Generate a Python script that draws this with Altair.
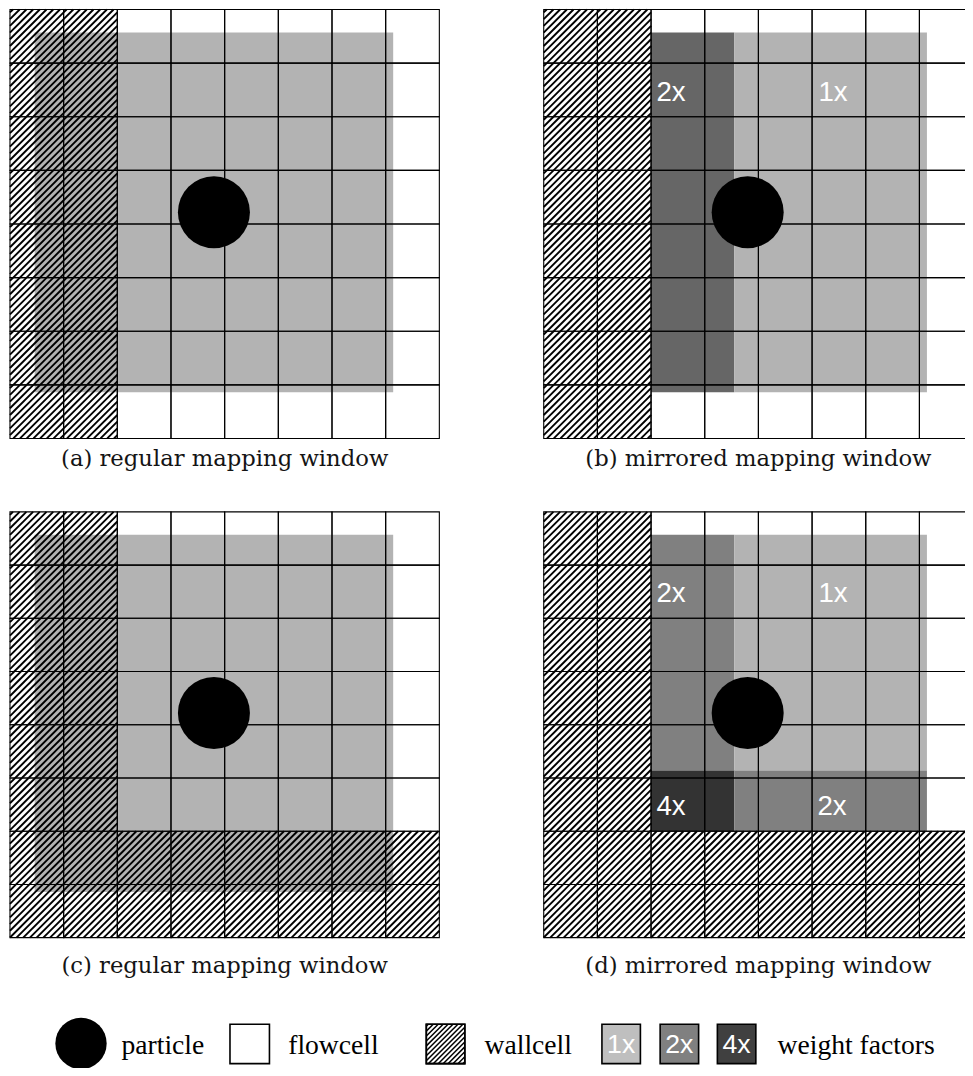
import altair as alt
import pandas as pd
import numpy as np

# ------------------------------------------------------------------ data
PANELS = ["a", "b", "c", "d"]
CAPTIONS = ["(a) regular mapping window", "(b) mirrored mapping window",
            "(c) regular mapping window", "(d) mirrored mapping window"]
N_CELLS = 8
WALL_COLS = {"a": [0, 1], "b": [0, 1], "c": [0, 1], "d": [0, 1]}
WALL_ROWS = {"a": [], "b": [], "c": [6, 7], "d": [6, 7]}
PARTICLE_COL = 3.80
PARTICLE_ROW = 3.78

# shaded regions (cell units): panel, x1, x2, y1, y2, weight factor
REG_PANEL = ["a", "b", "b", "c", "d", "d", "d", "d"]
REG_X1 = [0.46, 2.00, 3.55, 0.46, 2.00, 3.55, 2.00, 3.55]
REG_X2 = [7.14, 3.55, 7.14, 7.14, 3.55, 7.14, 3.55, 7.14]
REG_Y1 = [0.43, 0.43, 0.43, 0.43, 0.43, 0.43, 4.86, 4.86]
REG_Y2 = [7.14, 7.14, 7.14, 7.14, 4.86, 4.86, 6.00, 6.00]
REG_FACTOR = [1, 2, 1, 1, 2, 1, 4, 2]

# weight labels (cell units)
LBL_PANEL = ["b", "b", "d", "d", "d", "d"]
LBL_TEXT = ["2x", "1x", "2x", "1x", "4x", "2x"]
LBL_COL = [2.10, 5.12, 2.10, 5.12, 2.10, 5.10]
LBL_ROW = [1.70, 1.70, 1.69, 1.69, 5.70, 5.70]

LEGEND_TEXTS = ["particle", "flowcell", "wallcell", "weight factors"]
LEGEND_FACTORS = ["1x", "2x", "4x"]

# ------------------------------------------------------------------ layout / style
PANEL_X0 = {"a": 5.0, "b": 546.0, "c": 5.0, "d": 546.0}
PANEL_Y0 = {"a": 3.5, "b": 3.5, "c": 512.7, "d": 512.7}
CELL_W = 54.4
CELL_H = {"a": 54.35, "b": 54.35, "c": 53.95, "d": 53.95}
SHADE = {("a", 1): "#b3b3b3", ("b", 1): "#b3b3b3", ("b", 2): "#666666",
         ("c", 1): "#b3b3b3", ("d", 1): "#b3b3b3", ("d", 2): "#808080",
         ("d", 4): "#333333"}
LEG_SHADE = {"1x": "#bfbfbf", "2x": "#808080", "4x": "#404040"}

X_DOM = [3.0, 973.0]
W = 957
K = W / (X_DOM[1] - X_DOM[0])
H = 1060
Y_DOM = [2.0, 2.0 + H / K]

PARTICLE_R = 36.5
LEG_CIRCLE = (77.0, 1051.5, 26.0)
LEG_TEXT_X = [118, 287, 486, 783]
LEG_BASE = 1062
LEG_BOX_Y = (1032, 1072)
FLOW_BOX = (228, 268)
WALL_BOX = (427, 466)
FACTOR_BOX_X = [605, 664, 722]
BOX_W = 39
CAPTION_BASE = {"a": 466, "b": 466, "c": 980, "d": 980}
HATCH_STEP = 6.8


def px(p, col):
    return PANEL_X0[p] + col * CELL_W


def py(p, row):
    return PANEL_Y0[p] + row * CELL_H[p]


def hatch(rects, step, phase=0.0):
    segs = []
    for (x0, x1, y0, y1) in rects:
        cmin, cmax = x0 + y0, x1 + y1
        k0 = int(np.floor((cmin - phase) / step))
        k1 = int(np.ceil((cmax - phase) / step))
        for k in range(k0, k1 + 1):
            c = phase + k * step
            xa = max(x0, c - y1)
            xb = min(x1, c - y0)
            if xb - xa > 0.3:
                segs.append({"x": xa, "y": c - xa, "x2": xb, "y2": c - xb})
    return segs


# shaded regions
regions = pd.DataFrame({
    "x": [px(p, v) for p, v in zip(REG_PANEL, REG_X1)],
    "x2": [px(p, v) for p, v in zip(REG_PANEL, REG_X2)],
    "y": [py(p, v) for p, v in zip(REG_PANEL, REG_Y1)],
    "y2": [py(p, v) for p, v in zip(REG_PANEL, REG_Y2)],
    "color": [SHADE[(p, f)] for p, f in zip(REG_PANEL, REG_FACTOR)],
})

# hatch segments for wall cells
hsegs = []
for p in PANELS:
    rects = []
    for c in range(N_CELLS):
        for r in range(N_CELLS):
            if c in WALL_COLS[p] or r in WALL_ROWS[p]:
                rects.append((px(p, c), px(p, c + 1), py(p, r), py(p, r + 1)))
    hsegs += hatch(rects, HATCH_STEP, phase=PANEL_X0[p] + PANEL_Y0[p] + 3)
hatch_df = pd.DataFrame(hsegs)

# grid cells
cells = pd.DataFrame([
    {"x": px(p, c), "x2": px(p, c + 1), "y": py(p, r), "y2": py(p, r + 1)}
    for p in PANELS for c in range(N_CELLS) for r in range(N_CELLS)
])

# particles
particles = pd.DataFrame({
    "x": [px(p, PARTICLE_COL) for p in PANELS] + [LEG_CIRCLE[0]],
    "y": [py(p, PARTICLE_ROW) for p in PANELS] + [LEG_CIRCLE[1]],
    "size": [(2 * PARTICLE_R * K) ** 2] * 4 + [(2 * LEG_CIRCLE[2] * K) ** 2],
})

# weight labels
wlabels = pd.DataFrame({
    "x": [px(p, v) for p, v in zip(LBL_PANEL, LBL_COL)],
    "y": [py(p, v) for p, v in zip(LBL_PANEL, LBL_ROW)],
    "text": LBL_TEXT,
})

# captions
captions = pd.DataFrame({
    "x": [px(p, N_CELLS / 2) for p in PANELS],
    "y": [CAPTION_BASE[p] for p in PANELS],
    "text": CAPTIONS,
})

# legend
leg_text = pd.DataFrame({"x": LEG_TEXT_X, "y": [LEG_BASE] * 4, "text": LEGEND_TEXTS})
leg_boxes = pd.DataFrame({
    "x": [FLOW_BOX[0], WALL_BOX[0]] + FACTOR_BOX_X,
    "x2": [FLOW_BOX[1], WALL_BOX[1]] + [v + BOX_W for v in FACTOR_BOX_X],
    "y": [LEG_BOX_Y[0]] * 5,
    "y2": [LEG_BOX_Y[1]] * 5,
    "color": ["#ffffff", "#ffffff"] + [LEG_SHADE[f] for f in LEGEND_FACTORS],
})
leg_hatch = pd.DataFrame(hatch([(WALL_BOX[0], WALL_BOX[1], LEG_BOX_Y[0], LEG_BOX_Y[1])], 5.0, 1.0))
leg_flabels = pd.DataFrame({
    "x": [v + BOX_W / 2 for v in FACTOR_BOX_X],
    "y": [(LEG_BOX_Y[0] + LEG_BOX_Y[1]) / 2 + 1] * 3,
    "text": LEGEND_FACTORS,
})

# ------------------------------------------------------------------ chart
XS = alt.Scale(domain=X_DOM, nice=False, zero=False)
YS = alt.Scale(domain=Y_DOM, nice=False, zero=False, reverse=True)


def X(f="x"):
    return alt.X(f + ":Q", scale=XS, axis=None)


def Y(f="y"):
    return alt.Y(f + ":Q", scale=YS, axis=None)


region_layer = alt.Chart(regions).mark_rect(clip=True, strokeWidth=0).encode(
    x=X(), x2="x2:Q", y=Y(), y2="y2:Q", fill=alt.Fill("color:N", scale=None))

hatch_layer = alt.Chart(hatch_df).mark_rule(clip=True, color="black", strokeWidth=1.9).encode(
    x=X(), y=Y(), x2="x2:Q", y2="y2:Q")

grid_layer = alt.Chart(cells).mark_rect(clip=True, fillOpacity=0, stroke="black", strokeWidth=1.1).encode(
    x=X(), x2="x2:Q", y=Y(), y2="y2:Q")

particle_layer = alt.Chart(particles).mark_point(shape="circle", filled=True, color="black",
                                                 opacity=1, clip=True).encode(
    x=X(), y=Y(), size=alt.Size("size:Q", scale=None))

wlabel_layer = alt.Chart(wlabels).mark_text(font="Liberation Sans", fontSize=28 * K, color="white",
                                            align="left", baseline="alphabetic").encode(
    x=X(), y=Y(), text="text:N")

caption_layer = alt.Chart(captions).mark_text(font="DejaVu Serif", fontSize=23 * K, color="#141414",
                                              align="center", baseline="alphabetic").encode(
    x=X(), y=Y(), text="text:N")

legtext_layer = alt.Chart(leg_text).mark_text(font="Liberation Serif", fontSize=28 * K, color="black",
                                              align="left", baseline="alphabetic").encode(
    x=X(), y=Y(), text="text:N")

legbox_layer = alt.Chart(leg_boxes).mark_rect(stroke="black", strokeWidth=1.6).encode(
    x=X(), x2="x2:Q", y=Y(), y2="y2:Q", fill=alt.Fill("color:N", scale=None))

leghatch_layer = alt.Chart(leg_hatch).mark_rule(color="black", strokeWidth=1.5).encode(
    x=X(), y=Y(), x2="x2:Q", y2="y2:Q")

legbox_outline = alt.Chart(leg_boxes.iloc[[1]]).mark_rect(fillOpacity=0, stroke="black", strokeWidth=1.6).encode(
    x=X(), x2="x2:Q", y=Y(), y2="y2:Q")

legflabel_layer = alt.Chart(leg_flabels).mark_text(font="Liberation Sans", fontSize=27 * K, color="white",
                                                   align="center", baseline="middle").encode(
    x=X(), y=Y(), text="text:N")

chart = alt.layer(
    region_layer, hatch_layer, grid_layer, particle_layer, wlabel_layer, caption_layer,
    legbox_layer, leghatch_layer, legbox_outline, legflabel_layer, legtext_layer,
).properties(
    width=W, height=H, autosize=alt.AutoSizeParams(type="none"), padding=0,
    background="white",
).configure_view(stroke=None)

chart.save("out.html", embed_options={"renderer": "svg", "actions": False})
